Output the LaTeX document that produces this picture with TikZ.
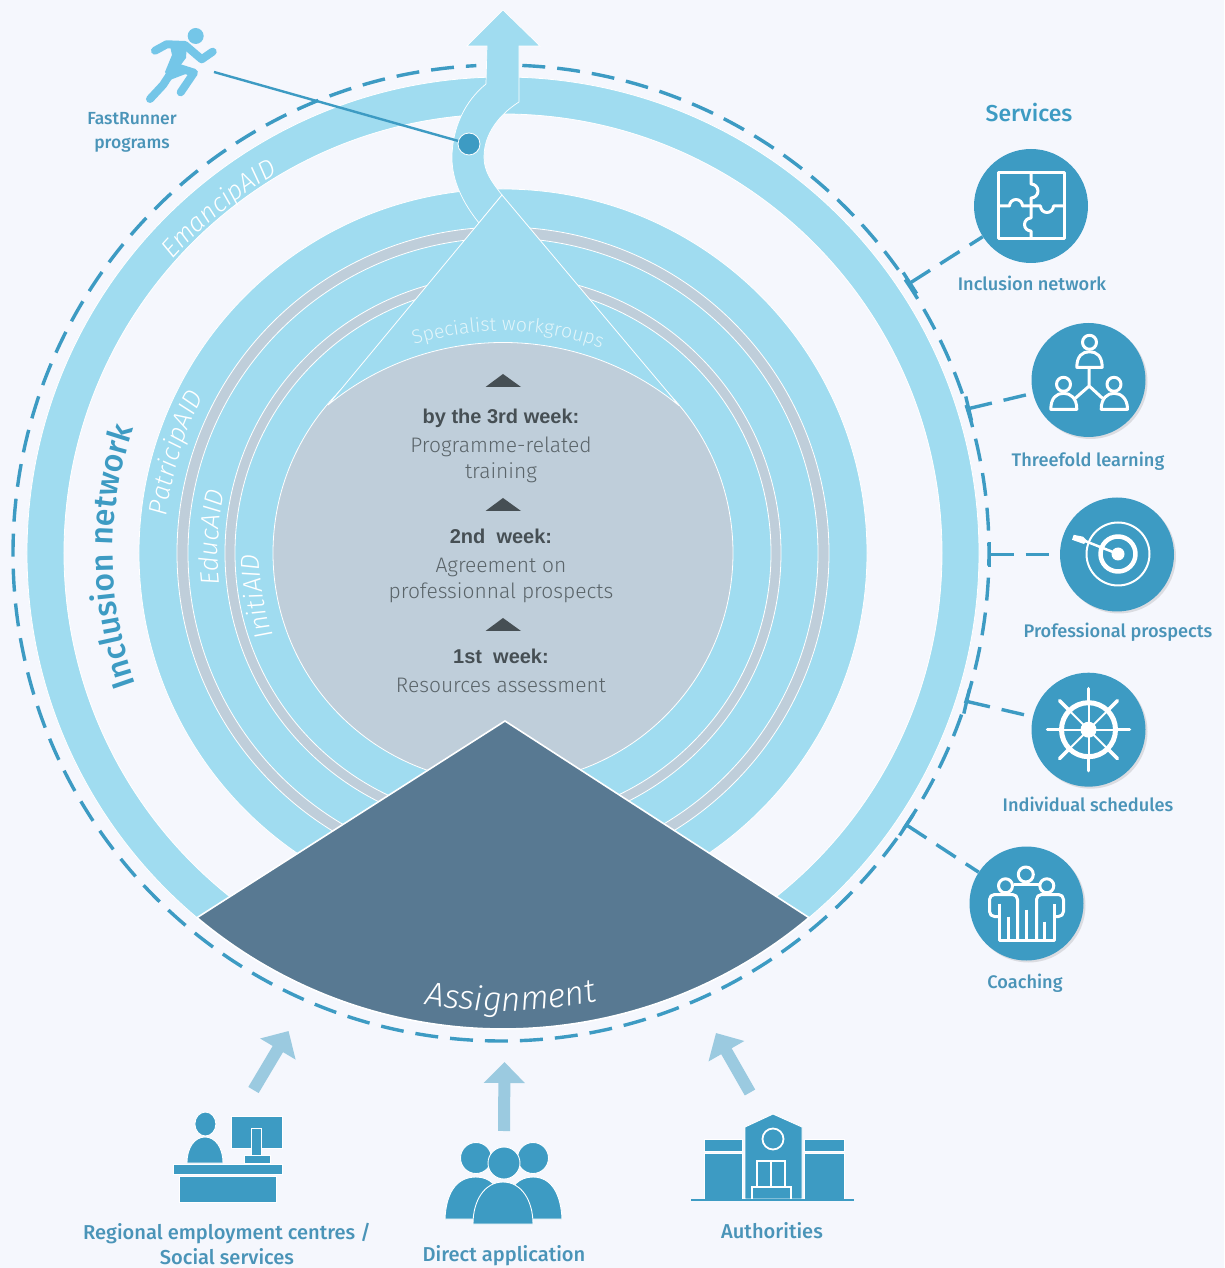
\documentclass[tikz,border=0pt]{standalone}
\usepackage{fontspec}
\setmainfont{Liberation Sans}
\newfontfamily\lblfont{Fira Sans Medium}
\newfontfamily\lightfont[ItalicFont={Fira Sans Light Italic}]{Fira Sans Light}
\usetikzlibrary{arrows.meta,decorations.text,shadows}
\definecolor{pagebg}{HTML}{F5F7FD}
\definecolor{bandblue}{HTML}{A0DCF0}
\definecolor{ringgray}{HTML}{BFCEDA}
\definecolor{assigndark}{HTML}{587992}
\definecolor{iconblue}{HTML}{3D9BC3}
\definecolor{labelblue}{HTML}{4A94B8}
\definecolor{inarrow}{HTML}{9BCAE0}
\definecolor{runnerblue}{HTML}{74C6E8}
\definecolor{bodygray}{HTML}{5A6469}
\definecolor{headgray}{HTML}{464F54}
\newcommand{\ringfont}{\lightfont\fontsize{26}{26}\selectfont\itshape\color{white}}
\tikzset{
  x=1pt, y=1pt,
  pixel/.style={shift={(-503,553)},yscale=-1},
  curved/.style={decorate,decoration={text along path,text align=center,text={#1}}},
  dashring/.style={draw=iconblue,line width=3.4pt,dash pattern=on 23pt off 12pt},
  teeline/.style={dashring,{Bar[width=25pt]}-},
  svcdisc/.style={circle,fill=iconblue,minimum size=114pt,inner sep=0pt},
  svcshadow/.style={svcdisc,drop shadow={opacity=.22,shadow xshift=2pt,shadow yshift=-2pt}},
  svcicon/.style={draw=white,line width=3pt,line join=round},
  lbl/.style={text=labelblue,font=\lblfont\fontsize{18.2}{24}\selectfont,align=center},
  biglbl/.style={lbl,font=\lblfont\fontsize{20.1}{25}\selectfont},
  bodytext/.style={text=bodygray,font=\lightfont\fontsize{21}{26}\selectfont,align=center},
  headtext/.style={text=headgray,font=\bfseries\fontsize{20}{24}\selectfont},
  iconfill/.style={fill=iconblue,draw=white,line width=.9pt},
  inflow/.style={draw=inarrow,line width=12pt,-{Triangle[length=21pt,width=40pt]}},
  runlimb/.style={draw=runnerblue,line width=8pt,line cap=round,line join=round},
}
\begin{document}
\begin{tikzpicture}
  \path[use as bounding box,fill=pagebg] (-503,-715) rectangle (721,553);

  \draw[dashring] ([shift={(87.5:488)}]-2,0) arc (87.5:-267.1:488);

  \foreach \r/\c in {476/bandblue,439/pagebg,364/bandblue,326/ringgray,315/bandblue,278/ringgray,268/bandblue,230/ringgray}
    \draw[white,line width=.8pt,fill=\c] (0,0) circle (\r);

  \path[curved={|\ringfont|EmancipAID}] (149.5:442) arc (149.5:109.5:442);
  \path[curved={|\ringfont|PatricipAID}] (188:338) arc (188:138:338);
  \path[curved={|\ringfont|EducAID}] (202:285) arc (202:152:285);
  \path[curved={|\ringfont|InitiAID}] (215:244) arc (215:165:244);
  \path[curved={|\lblfont\fontsize{32}{32}\selectfont\color{iconblue}|Inclusion network}] (205.5:390) arc (205.5:155.5:390);

  \draw[white,line width=.7pt,fill=bandblue] (0,543) -- (37,507) -- (16,507) -- (16,451)
    .. controls (3,443) and (-19,424) .. (-19,396)
    .. controls (-19,382) and (-12,372) .. (-1,358) -- (-24,330)
    .. controls (-40,350) and (-51,372) .. (-51,395)
    .. controls (-51,425) and (-38,452) .. (-17,469) -- (-16,507) -- (-36,507) -- cycle;
  \fill[bandblue] (-15,468) rectangle (14.5,507);

  \draw[white,line width=.8pt,fill=bandblue] (-1,358) -- (-175,148) arc (129.3:50.4:276.5) -- cycle;
  \path[curved={|\lightfont\fontsize{19.5}{20}\selectfont\color{white!70!bandblue}|Specialist workgroups}] (0,-66) ++(119:288) arc (119:59:288);

  \foreach \y in {179,55,-65}
    \fill[headgray] (0,\y) -- (-17.5,\y-13) -- (18,\y-13) -- cycle;
  \node[headtext] (weekthreehead) at (-2,135) {by the 3rd week:};
  \node[bodytext] (weekthreebody) at (-2,93) {Programme-related\\training};
  \node[headtext] (weektwohead) at (-2,17) {2nd\ \ week:};
  \node[bodytext] (weektwobody) at (-2,-27.5) {Agreement on\\professionnal prospects};
  \node[headtext] (weekonehead) at (-2,-103) {1st\ \ week:};
  \node[bodytext] (weekonebody) at (-2,-132) {Resources assessment};

  \draw[white,line width=1.6pt,fill=assigndark] (2,-168) -- (230:476) arc (230:310:476) -- cycle;
  \path[curved={|\lightfont\fontsize{33.5}{33}\selectfont\itshape\color{white}|Assignment}] (245:458) arc (245:297:458);

  \node[circle,fill=iconblue,draw=white,line width=.8pt,minimum size=22pt,inner sep=0pt] (fastdot) at (-34,409) {};
  \coordinate (fastfoot) at (-289,481);
  \draw[iconblue,line width=2.4pt] (fastfoot) -- (fastdot);
  \node[lbl,font=\lblfont\fontsize{17.5}{24}\selectfont] (fastlabel) at (-371,421) {FastRunner\\programs};

  \begin{scope}[pixel]
    \fill[runnerblue] (195.7,36) circle (8);
    \draw[runlimb] (155,50.7) -- (166.7,44.3) -- (185,45) -- (201.7,59.3) -- (212.7,51.7);
    \fill[runnerblue] (169,41) -- (187,44) -- (186,58) -- (180,66) -- (196,70) -- (170,80) -- (165,72) -- (172,55) -- cycle;
    \draw[runlimb] (175,66.7) -- (194,72.7) -- (180.7,92.3);
    \draw[runlimb] (171.7,71.7) -- (163,85) -- (150,99);
  \end{scope}

  \node[lbl,text=iconblue,font=\lblfont\fontsize{23}{24}\selectfont] (svchead) at (526,440) {Services};
  \node[svcdisc] (svcone) at (528,347) {};
  \node[svcshadow] (svctwo) at (585.5,173) {};
  \node[svcshadow] (svcthree) at (614,-1.5) {};
  \node[svcshadow] (svcfour) at (585.5,-176.7) {};
  \node[svcshadow] (svcfive) at (523.5,-350.5) {};
  \node[lbl] (svconelabel) at (529,270) {Inclusion network};
  \node[lbl] (svctwolabel) at (585,92) {Threefold learning};
  \node[lbl] (svcthreelabel) at (615,-79) {Professional prospects};
  \node[lbl] (svcfourlabel) at (585,-251) {Individual schedules};
  \node[lbl] (svcfivelabel) at (522,-430) {Coaching};

  \coordinate (teeone) at (405.5,269);
  \coordinate (teetwo) at (464,144);
  \coordinate (teethree) at (485,-1.5);
  \coordinate (teefour) at (462,-148);
  \coordinate (teefive) at (402,-271);
  \foreach \t/\s in {teeone/svcone,teetwo/svctwo,teethree/svcthree,teefour/svcfour,teefive/svcfive}
    \draw[teeline] (\t) -- (\s);

  \begin{scope}[shift={(svcone)},svcicon]
    \draw (-33,-33) rectangle (33,33);
    \draw (-33,0) -- (-21.5,0) arc (180:0:6.5) -- (9.5,0) arc (180:360:6.5) -- (33,0);
    \draw (0,33) -- (0,22) arc (90:-90:7) -- (0,-12) arc (90:270:6.5) -- (0,-33);
  \end{scope}

  \begin{scope}[shift={(svctwo)},svcicon]
    \draw (1,37.7) circle (7);
    \draw (-11.7,12.7) .. controls (-11.7,24) and (-6,28.3) .. (1,28.3) .. controls (8,28.3) and (13.7,24) .. (13.7,12.7) -- cycle;
    \draw (0.7,12.7) -- (0.7,-6) -- (-13.3,-18.3) (0.7,-6) -- (14,-18.3);
    \draw (-25,-4.3) circle (7);
    \draw (-37.7,-29.3) .. controls (-37.7,-18) and (-32,-13.3) .. (-25,-13.3) .. controls (-18,-13.3) and (-11.7,-18) .. (-11.7,-29.3) -- cycle;
    \draw (25.5,-4.3) circle (7);
    \draw (12.7,-29.3) .. controls (12.7,-18) and (19,-13.3) .. (25.5,-13.3) .. controls (32,-13.3) and (39,-18) .. (39,-29.3) -- cycle;
  \end{scope}

  \begin{scope}[shift={(svcthree)},svcicon]
    \draw[line width=2pt] (1,0.5) circle (31.5);
    \draw[line width=4.5pt] (1,0.5) circle (17.5);
    \fill[white] (1,0.5) circle (6.5);
    \draw[line width=2.5pt] (1,0.5) -- (-32,13.5);
    \fill[white] (-45,14.7) -- (-43.3,19.7) -- (-34,17.8) -- (-30,14) -- (-33,10.5) -- cycle;
  \end{scope}

  \begin{scope}[shift={(svcfour)},svcicon]
    \draw[line width=5pt] (0,0) circle (27);
    \fill[white] (0,0) circle (8);
    \foreach \a in {0,45,...,315} {
      \draw[line width=2pt] (0,0) -- (\a:27);
      \draw[line width=3.5pt,line cap=round] (\a:29) -- (\a:41);
    }
  \end{scope}

  \begin{scope}[shift={(svcfive)},svcicon]
    \draw (-0.7,29) circle (7.5);
    \draw (-21,17.7) circle (7);
    \draw (20.3,17.7) circle (7);
    \draw (-13,19.3) -- (13,19.3);
    \draw[rounded corners=5pt] (-9,-36.7) -- (-9,9) -- (-37,9) -- (-37,-13) -- (-27.5,-13);
    \draw[rounded corners=5pt] (10,-36.7) -- (10,9) -- (37,9) -- (37,-13) -- (28,-13);
    \draw (-27.5,0) -- (-27.5,-36.7) -- (28,-36.7) -- (28,0);
    \draw (-18,-13) -- (-18,-36.7) (0,-6) -- (0,-36.7) (18,-18) -- (18,-36.7);
  \end{scope}

  \begin{scope}[pixel]
    \coordinate (inleftfrom) at (253.5,1090);
    \coordinate (inleftto) at (288.6,1031);
    \coordinate (inmidfrom) at (504,1131);
    \coordinate (inmidto) at (504.5,1062);
    \coordinate (inrightfrom) at (750,1092.5);
    \coordinate (inrightto) at (716,1033);
    \draw[inflow] (inleftfrom) -- (inleftto);
    \draw[inflow] (inmidfrom) -- (inmidto);
    \draw[inflow] (inrightfrom) -- (inrightto);

    \path[iconfill] (205.4,1124) ellipse (10.5 and 12);
    \path[iconfill] (187,1163) .. controls (187,1147) and (195,1137) .. (205,1137) .. controls (215,1137) and (223,1147) .. (223,1163) -- cycle;
    \path[iconfill] (231,1116) rectangle (282,1148);
    \path[iconfill] (251,1128) rectangle (261,1156);
    \path[iconfill] (244,1155) rectangle (270,1163);
    \path[iconfill] (173.5,1164) rectangle (282,1174);
    \path[iconfill] (179,1176) rectangle (276.5,1202);

    \path[iconfill] (476,1158) circle (15.5);
    \path[iconfill] (533,1158) circle (15.5);
    \path[iconfill] (445,1219) .. controls (446,1195) and (455,1177) .. (476,1177) .. controls (490,1177) and (498,1186) .. (502,1200) -- (502,1219) -- cycle;
    \path[iconfill] (562,1219) .. controls (561,1195) and (552,1177) .. (533,1177) .. controls (519,1177) and (511,1186) .. (507,1200) -- (507,1219) -- cycle;
    \path[iconfill] (504,1163) circle (16);
    \path[iconfill] (473,1224) .. controls (473,1200) and (485,1182) .. (503,1182) .. controls (521,1182) and (533,1200) .. (533,1224) -- cycle;

    \path[iconfill] (704,1139) rectangle (742.5,1151);
    \path[iconfill] (704,1153) rectangle (742.5,1199);
    \path[iconfill] (804,1139) rectangle (844.5,1151);
    \path[iconfill] (804,1153) rectangle (844.5,1199);
    \path[iconfill] (745,1199) -- (745,1127) -- (773,1114) -- (802,1127) -- (802,1199) -- cycle;
    \draw[white,line width=1.8pt] (773,1139) circle (10.5);
    \draw[white,line width=1.8pt] (757,1187) -- (757,1161) -- (785,1161) -- (785,1187) (771,1161) -- (771,1187);
    \draw[white,line width=1.8pt] (752,1199) -- (752,1187) -- (791,1187) -- (791,1199);
    \draw[iconblue,line width=2pt] (691,1200) -- (854,1200);
  \end{scope}

  \node[biglbl] (regionlabel) at (-276,-691) {Regional employment centres /\\Social services};
  \node[biglbl] (directlabel) at (1,-703) {Direct application};
  \node[biglbl] (authlabel) at (269,-678) {Authorities};
\end{tikzpicture}
\end{document}
